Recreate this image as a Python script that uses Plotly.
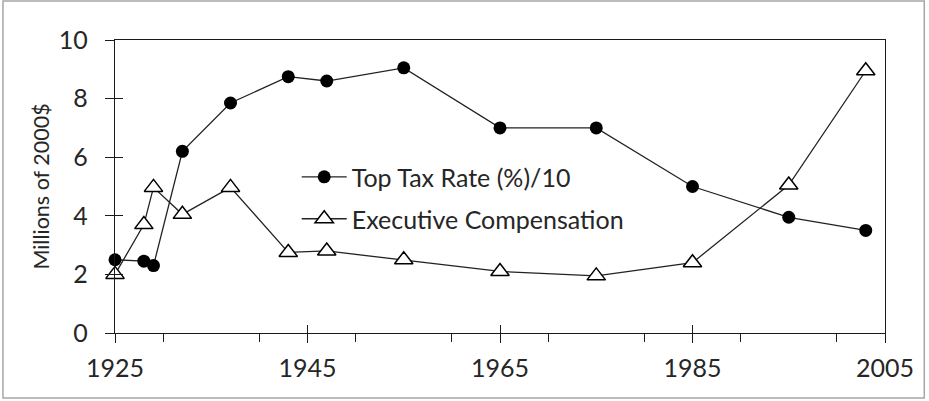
import plotly.graph_objects as go

tax_years = [1925, 1928, 1929, 1932, 1937, 1943, 1947, 1955, 1965, 1975, 1985, 1995, 2003]
tax_rate_div10 = [2.5, 2.45, 2.3, 6.2, 7.85, 8.75, 8.6, 9.05, 7.0, 7.0, 5.0, 3.95, 3.5]

comp_years = [1925, 1928, 1929, 1932, 1937, 1943, 1947, 1955, 1965, 1975, 1985, 1995, 2003]
exec_comp = [2.0, 3.7, 4.97, 4.05, 4.97, 2.75, 2.8, 2.5, 2.1, 1.95, 2.4, 5.05, 8.95]

x_range = [1925, 2005]
y_range = [0, 10]

FONT = "Lato"
INK = "#1a1a1a"
TXT = "#262626"

fig = go.Figure()
fig.add_trace(go.Scatter(
    x=tax_years, y=tax_rate_div10, mode="lines+markers", name="Top Tax Rate (%)/10",
    line=dict(color="#222222", width=1.3),
    marker=dict(symbol="circle", size=13, color="black", line=dict(width=0)),
    cliponaxis=False, legend="legend"))
fig.add_trace(go.Scatter(
    x=comp_years, y=exec_comp, mode="lines+markers", name="Executive Compensation",
    line=dict(color="#222222", width=1.3),
    marker=dict(symbol="triangle-up", size=16, color="white", line=dict(color="black", width=1.5)),
    cliponaxis=False, legend="legend2"))
# dummy trace to make overlay axes render (inside ticks)
fig.add_trace(go.Scatter(x=[None], y=[None], xaxis="x2", yaxis="y2", showlegend=False, hoverinfo="skip"))

fig.update_layout(
    width=929, height=401,
    margin=dict(l=115, r=44, t=40, b=68),
    paper_bgcolor="white", plot_bgcolor="white",
    font=dict(family=FONT, size=25, color=TXT),
    xaxis=dict(range=x_range, tick0=1925, dtick=20, ticks="outside", ticklen=9, tickwidth=1.3,
               tickcolor=INK, showline=True, linecolor=INK, linewidth=1.3, mirror=True,
               showgrid=False, zeroline=False, ticklabelstandoff=4,
               minor=dict(dtick=10, ticks="outside", ticklen=8, tickwidth=1.3, tickcolor=INK, showgrid=False)),
    yaxis=dict(range=y_range, dtick=2, ticks="outside", ticklen=9, tickwidth=1.3, tickcolor=INK,
               showline=True, linecolor=INK, linewidth=1.3, mirror=True, showgrid=False,
               zeroline=False, ticklabelstandoff=12,
               title=dict(text="Millions of 2000$", standoff=3, font=dict(size=21.5))),
    xaxis2=dict(range=x_range, overlaying="x", tick0=1925, dtick=20, ticks="inside", ticklen=8,
                tickwidth=1.3, tickcolor=INK, showticklabels=False, showline=False, showgrid=False,
                zeroline=False),
    yaxis2=dict(range=y_range, overlaying="y", dtick=2, ticks="inside", ticklen=8, tickwidth=1.3,
                tickcolor=INK, showticklabels=False, showline=False, showgrid=False, zeroline=False),
    legend=dict(x=0.236, y=0.532, xanchor="left", yanchor="middle", bgcolor="rgba(0,0,0,0)",
                itemwidth=45, font=dict(size=25, color=TXT)),
    legend2=dict(x=0.236, y=0.389, xanchor="left", yanchor="middle", bgcolor="rgba(0,0,0,0)",
                 itemwidth=45, font=dict(size=25, color=TXT)),
    shapes=[dict(type="rect", xref="paper", yref="paper", x0=-0.1455, x1=1.051, y0=-0.222, y1=1.133,
                 line=dict(color="#a6a6a6", width=1.5), fillcolor="rgba(0,0,0,0)", layer="below")],
)

fig.write_html("out.html", config={"displayModeBar": False},
               post_script="document.body.style.margin='0';document.body.style.padding='0';")
